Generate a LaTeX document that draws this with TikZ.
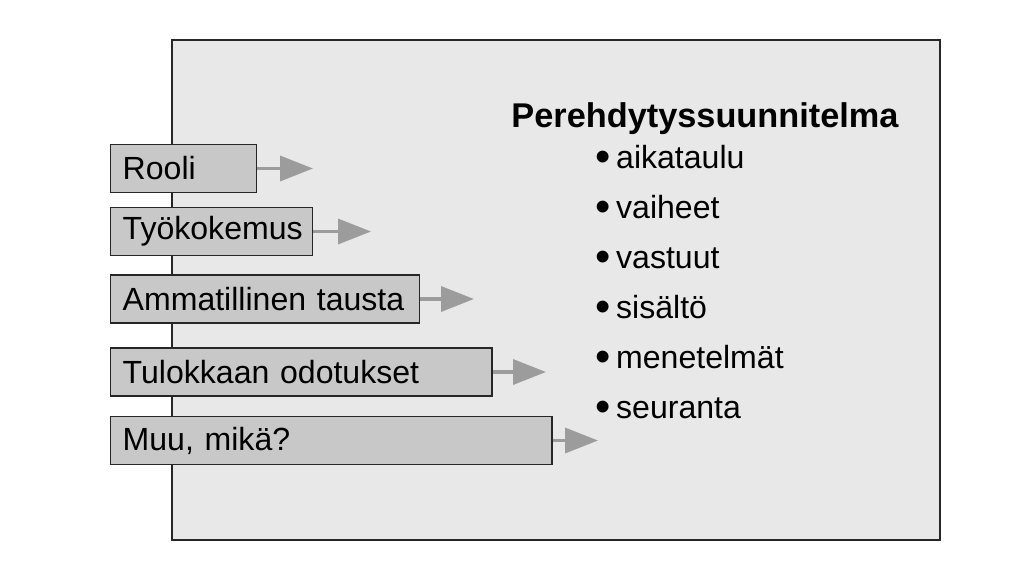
\documentclass[tikz,border=0pt]{standalone}
\usepackage{fontspec}
\setmainfont{Liberation Sans}
\usetikzlibrary{arrows.meta,positioning}
\definecolor{panelgray}{HTML}{E8E8E8}
\definecolor{boxgray}{HTML}{C8C8C8}
\definecolor{arrowgray}{HTML}{9C9C9C}
\newcommand{\planbullet}{\raisebox{-2.2pt}{\fontsize{31}{31}\selectfont\textbullet}}

\begin{document}
\begin{tikzpicture}[x=0.025cm,y=-0.025cm,
    factor/.style={draw=black!85,fill=boxgray,line width=1pt,anchor=west,
      minimum height=1.2cm,inner xsep=0.3cm,text width=#1,align=left,
      font=\fontsize{22.8}{26}\selectfont},
    feed/.style={-{Triangle[length=0.82cm,width=0.62cm,fill=arrowgray]},color=arrowgray,line width=2.6pt},
    item/.style={anchor=base west,inner sep=0pt,font=\fontsize{22.8}{26}\selectfont}]
  \useasboundingbox[fill=white] (0,0) rectangle (1024,580);
  % the plan panel
  \draw[fill=panelgray,draw=black!85,line width=1.3pt] (172,40) rectangle (940,540);
  \node[anchor=base,inner sep=0pt,font=\fontsize{24.4}{28}\selectfont\bfseries] (plan) at (705,127) {Perehdytyssuunnitelma};
  \foreach \txt [count=\i] in {aikataulu,vaiheet,vastuut,sisältö,menetelmät,seuranta}
    \node[item] (item\i) at (595,{168+50*(\i-1)}) {\planbullet\hspace{4pt}\txt};
  % background factors
  \node[factor=3.05cm] (rooli) at (110,168.5) {Rooli};
  \node[factor=4.45cm] (kokemus) at (110,231.5) {Työkokemus};
  \node[factor=7.125cm] (tausta) at (110,299) {Ammatillinen tausta};
  \node[factor=8.925cm] (odotus) at (110,372) {Tulokkaan odotukset};
  \node[factor=10.425cm] (muu) at (110,440.5) {Muu, mikä?};
  \coordinate (rooliTip) at (313,168.5);
  \coordinate (kokemusTip) at (371,231.5);
  \coordinate (taustaTip) at (474,299);
  \coordinate (odotusTip) at (546,372);
  \coordinate (muuTip) at (598,440.5);
  \path[feed]
    (rooli) edge (rooliTip)
    (kokemus) edge (kokemusTip)
    (tausta) edge (taustaTip)
    (odotus) edge (odotusTip)
    (muu) edge (muuTip);
\end{tikzpicture}
\end{document}
